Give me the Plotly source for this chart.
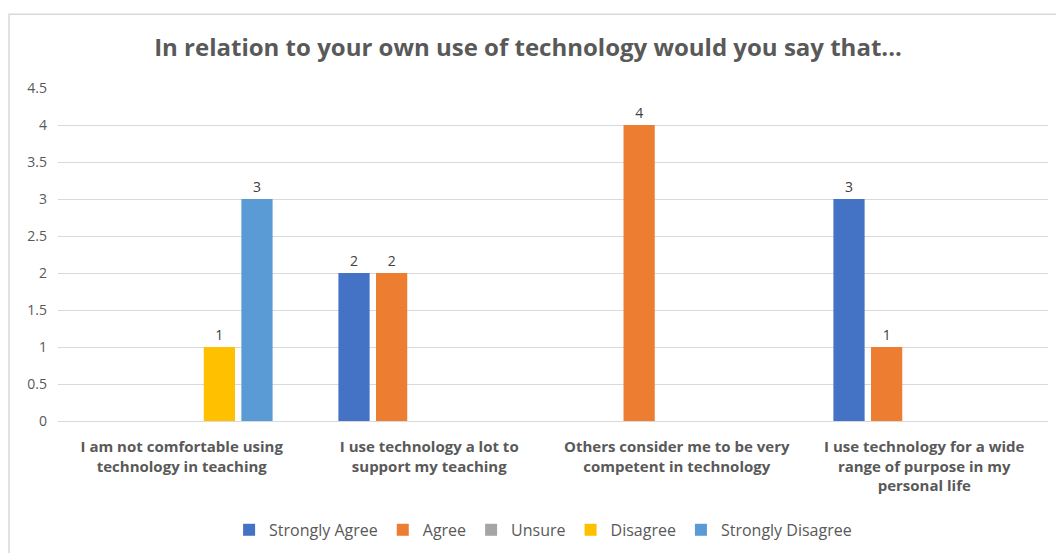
import plotly.graph_objects as go

# Survey responses per statement
categories = [
    "I am not comfortable using<br>technology in teaching",
    "I use technology a lot to<br>support my teaching",
    "Others consider me to be very<br>competent in technology",
    "I use technology for a wide<br>range of purpose in my<br>personal life",
]
strongly_agree = [None, 2, None, 3]
agree = [None, 2, 4, 1]
unsure = [None, None, None, None]
disagree = [1, None, None, None]
strongly_disagree = [3, None, None, None]

series = [
    ("Strongly Agree", strongly_agree, "#4472C4"),
    ("Agree", agree, "#ED7D31"),
    ("Unsure", unsure, "#A5A5A5"),
    ("Disagree", disagree, "#FFC000"),
    ("Strongly Disagree", strongly_disagree, "#5B9BD5"),
]

FONT = "Open Sans, Lato, sans-serif"
GREY = "#595959"

fig = go.Figure()
for name, vals, color in series:
    fig.add_trace(go.Bar(
        name=name,
        x=categories,
        y=vals,
        marker=dict(color=color, line=dict(width=0)),
        text=[("" if v is None else str(v)) for v in vals],
        textposition="outside",
        textfont=dict(family=FONT, size=14, color="#404040"),
        cliponaxis=False,
    ))

fig.update_layout(
    width=1056,
    height=553,
    barmode="group",
    bargap=0.24,
    bargroupgap=0.17,
    paper_bgcolor="white",
    plot_bgcolor="white",
    margin=dict(l=58, r=8, t=88, b=131),
    title=dict(
        text="<b>In relation to your own use of technology would you say that...</b>",
        x=0.5,
        xanchor="center",
        y=1 - 48 / 553,
        yanchor="middle",
        font=dict(family=FONT, size=24, color=GREY),
    ),
    legend=dict(
        orientation="h",
        x=0.49,
        xanchor="center",
        y=-0.323,
        yanchor="middle",
        font=dict(family=FONT, size=16, color=GREY),
        itemwidth=30,
        traceorder="normal",
    ),
    xaxis=dict(
        tickfont=dict(family=FONT, size=15, color=GREY),
        showline=True,
        linecolor="#D9D9D9",
        linewidth=1,
        ticks="",
        ticklabelstandoff=12,
    ),
    yaxis=dict(
        range=[0, 4.5],
        dtick=0.5,
        tickfont=dict(family=FONT, size=14, color=GREY),
        gridcolor="#D9D9D9",
        gridwidth=1,
        zeroline=False,
        showline=False,
        ticks="",
        ticklabelstandoff=10,
    ),
    shapes=[dict(
        type="rect", xref="paper", yref="paper",
        x0=-49 / 990, x1=1.05, y0=-0.5, y1=1 + 74 / 334,
        line=dict(color="#D9D9D9", width=1.5),
        fillcolor="rgba(0,0,0,0)",
        layer="below",
    )],
)

# bold category labels
fig.update_xaxes(ticktext=[f"<b>{c}</b>" for c in categories], tickvals=categories)

fig.write_html("out.html")
